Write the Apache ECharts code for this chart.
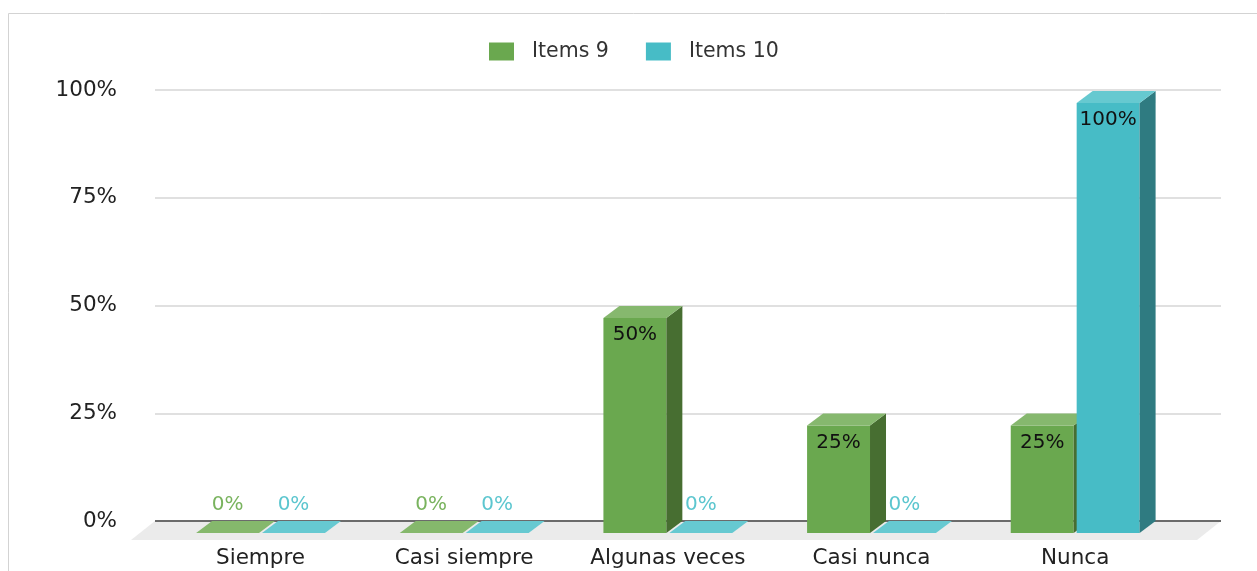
<!DOCTYPE html>
<html><head><meta charset="utf-8">
<script src="https://cdn.jsdelivr.net/npm/echarts@6/dist/echarts.min.js"></script>
<style>html,body{margin:0;padding:0;background:#fff}#c{width:1257px;height:571px}</style>
</head><body><div id="c"></div>
<script>
const categories = ['Siempre', 'Casi siempre', 'Algunas veces', 'Casi nunca', 'Nunca'];
const seriesNames = ['Items 9', 'Items 10'];
const items9 = [0, 0, 50, 25, 25];
const items10 = [0, 0, 0, 0, 100];
const yTicks = [0, 25, 50, 75, 100];

const FONT = 'DejaVu Sans';
const palette = [
  { front: '#6aa84f', side: '#476e31', top: '#86b86e', zero: '#85b86c', label: '#79b35e' },
  { front: '#47bcc6', side: '#2f7b81', top: '#66c9d0', zero: '#66c9d1', label: '#5cc6cf' }
];
const DX = 16, DY = -12;

function barRenderer(si) {
  const c = palette[si];
  return function (params, api) {
    const cat = api.value(0), v = api.value(1);
    const base = api.coord([cat, 0]);
    const topP = api.coord([cat, v]);
    const band = api.size([1, 0])[0];
    const w = band * 0.309;
    const x0 = si === 0 ? base[0] - w - 1.5 : base[0] + 1.5;
    const children = [];
    const txt = v + '%';
    if (v > 0) {
      children.push({ type: 'rect', shape: { x: x0, y: topP[1], width: w, height: base[1] - topP[1] }, style: { fill: c.front } });
      children.push({ type: 'polygon', shape: { points: [[x0 + w, base[1]], [x0 + w, topP[1]], [x0 + w + DX, topP[1] + DY], [x0 + w + DX, base[1] + DY]] }, style: { fill: c.side } });
      children.push({ type: 'polygon', shape: { points: [[x0, topP[1]], [x0 + w, topP[1]], [x0 + w + DX, topP[1] + DY], [x0 + DX, topP[1] + DY]] }, style: { fill: c.top } });
      children.push({ type: 'text', style: { x: x0 + w / 2, y: topP[1] + 17, text: txt, fill: '#111', font: '20px "' + FONT + '"', align: 'center', verticalAlign: 'middle' } });
    } else {
      children.push({ type: 'polygon', shape: { points: [[x0, base[1]], [x0 + w, base[1]], [x0 + w + DX, base[1] + DY], [x0 + DX, base[1] + DY]] }, style: { fill: c.zero } });
      children.push({ type: 'text', style: { x: x0 + w / 2, y: base[1] - 28, text: txt, fill: c.label, font: '20px "' + FONT + '"', align: 'center', verticalAlign: 'middle' } });
    }
    return { type: 'group', children: children };
  };
}

function floorRenderer(params, api) {
  const cs = params.coordSys;
  const by = cs.y + cs.height;
  return {
    type: 'group',
    children: [
      { type: 'polygon', shape: { points: [[cs.x, by], [cs.x + cs.width, by], [cs.x + cs.width - 24, by + 19], [cs.x - 24, by + 19]] }, style: { fill: '#ebebeb' } },
      { type: 'line', shape: { x1: cs.x, y1: by, x2: cs.x + cs.width, y2: by }, style: { stroke: '#6b6b6b', lineWidth: 2 } }
    ]
  };
}

const chart = echarts.init(document.getElementById('c'));
chart.setOption({
  backgroundColor: '#fff',
  animation: false,
  textStyle: { fontFamily: FONT },
  graphic: [{ type: 'rect', shape: { x: 8.5, y: 13.5, width: 1300, height: 600 }, style: { fill: 'none', stroke: '#d3d3d3', lineWidth: 1 }, z: -10 }],
  legend: {
    data: seriesNames,
    top: 36, left: 484,
    icon: 'rect',
    itemWidth: 25, itemHeight: 18, itemGap: 37,
    textStyle: { fontFamily: FONT, fontSize: 20.5, color: '#333', padding: [0, 0, 0, 13] }
  },
  grid: [
    { left: 155, right: 36, top: 90, bottom: 50 },
    { left: 158.7, right: 80, top: 103, bottom: 38 }
  ],
  xAxis: [
    { type: 'category', gridIndex: 0, data: categories, show: false },
    { type: 'category', gridIndex: 1, data: categories, axisLine: { show: false }, axisTick: { show: false },
      axisLabel: { fontFamily: FONT, fontSize: 21.5, color: '#222', margin: 14 } }
  ],
  yAxis: [
    { type: 'value', gridIndex: 0, min: yTicks[0], max: yTicks[yTicks.length - 1], interval: 25,
      axisLine: { show: false }, axisTick: { show: false },
      axisLabel: { formatter: '{value}%', fontFamily: FONT, fontSize: 21.5, color: '#222', margin: 38 },
      splitLine: { lineStyle: { color: '#d6d6d6', width: 1.5 } } },
    { type: 'value', gridIndex: 1, min: yTicks[0], max: yTicks[yTicks.length - 1], show: false, splitLine: { show: false } }
  ],
  series: [
    { type: 'custom', name: 'floor', xAxisIndex: 0, yAxisIndex: 0, data: [[0, 0]], renderItem: floorRenderer, z: 1, silent: true },
    { type: 'custom', name: seriesNames[0], xAxisIndex: 1, yAxisIndex: 1, itemStyle: { color: palette[0].front },
      data: items9.map((v, i) => [i, v]), renderItem: barRenderer(0), z: 3 },
    { type: 'custom', name: seriesNames[1], xAxisIndex: 1, yAxisIndex: 1, itemStyle: { color: palette[1].front },
      data: items10.map((v, i) => [i, v]), renderItem: barRenderer(1), z: 4 }
  ]
});
</script>
</body></html>
